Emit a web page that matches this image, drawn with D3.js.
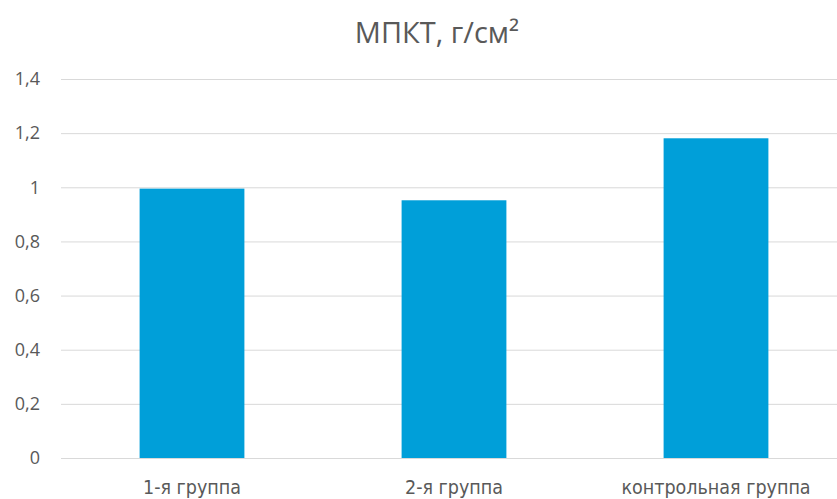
<!DOCTYPE html>
<html><head><meta charset="utf-8">
<script src="https://cdn.jsdelivr.net/npm/d3@7"></script>
<style>body{margin:0;background:#fff}</style></head>
<body><svg id="c" width="837" height="499"></svg>
<script>
const categories = ["1-я группа", "2-я группа", "контрольная группа"];
const values = [0.995, 0.952, 1.181];
const yTicks = [0, 0.2, 0.4, 0.6, 0.8, 1, 1.2, 1.4];
const title = "МПКТ, г/см²";

const svg = d3.select("#c");
const narrow = "'Liberation Sans Narrow','DejaVu Sans Condensed',sans-serif";
const x = d3.scaleBand().domain(categories).range([61, 847]).paddingInner(0.6).paddingOuter(0.3);
const y = d3.scaleLinear().domain([0, 1.4]).range([458, 79]);

const fmt = d => String(d).replace(".", ",");
const ya = svg.append("g").attr("transform", "translate(61,0)")
  .call(d3.axisLeft(y).tickValues(yTicks).tickFormat(fmt).tickSize(-786).tickPadding(21));
ya.select(".domain").remove();
ya.selectAll("line").attr("stroke", "#d9d9d9");
ya.selectAll("text").attr("fill", "#595959").style("font-family", "'Open Sans',sans-serif").style("font-size", "18px");

svg.append("g").selectAll("rect").data(values).join("rect")
  .attr("x", (d, i) => x(categories[i])).attr("width", x.bandwidth())
  .attr("y", d => y(d)).attr("height", d => y(0) - y(d)).attr("fill", "#009fd9");

const xa = svg.append("g").attr("transform", "translate(0,458)")
  .call(d3.axisBottom(x).tickSize(0).tickPadding(22));
xa.select(".domain").attr("stroke", "#d9d9d9");
xa.selectAll("text").attr("fill", "#595959").style("font-family", narrow).style("font-size", "19.5px");

svg.append("text").attr("x", 437).attr("y", 43).attr("text-anchor", "middle")
  .attr("fill", "#595959").style("font-family", "'Open Sans',sans-serif").style("font-size", "29px").text(title);
</script></body></html>
